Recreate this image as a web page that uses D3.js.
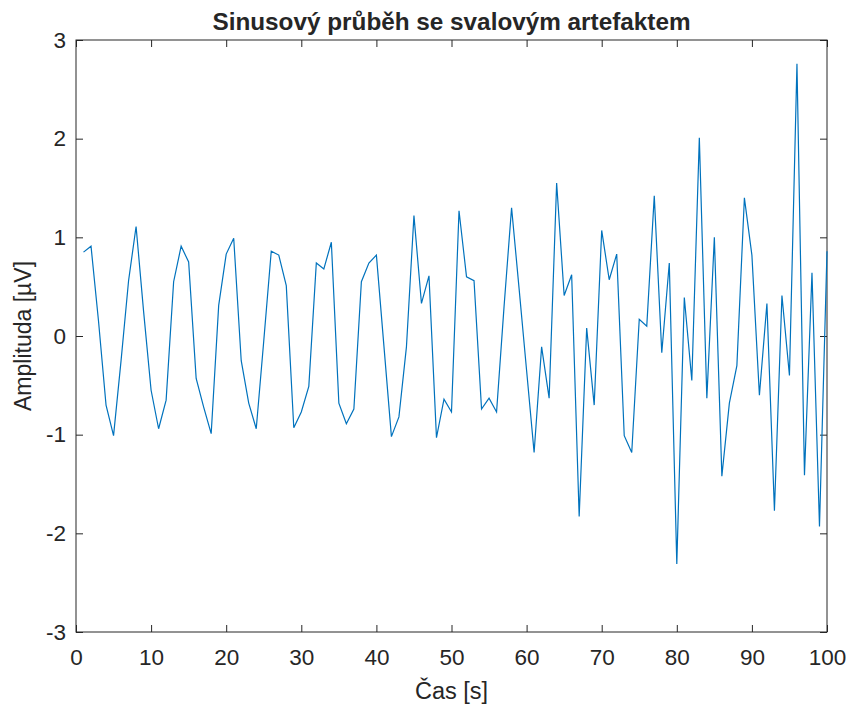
<!DOCTYPE html>
<html>
<head>
<meta charset="utf-8">
<script src="https://cdn.jsdelivr.net/npm/d3@7"></script>
<style>
  body { margin: 0; background: #fff; }
  svg text { font-family: "Liberation Sans", Arial, sans-serif; fill: #262626; }
</style>
</head>
<body>
<div id="chart"></div>
<script>
// Hodnoty (čas 1..100 s)
const casy = d3.range(1, 101);
const amplituda = [
  0.85, 0.91, 0.15, -0.70, -1.01, -0.25, 0.56, 1.11, 0.25, -0.55,
  -0.94, -0.65, 0.55, 0.91, 0.75, -0.43, -0.72, -0.99, 0.31, 0.83,
  0.99, -0.25, -0.68, -0.94, -0.05, 0.86, 0.82, 0.51, -0.93, -0.77,
  -0.51, 0.74, 0.68, 0.95, -0.68, -0.89, -0.74, 0.55, 0.74, 0.82,
  -0.10, -1.02, -0.82, -0.11, 1.22, 0.33, 0.61, -1.03, -0.64, -0.77,
  1.27, 0.60, 0.56, -0.74, -0.63, -0.77, 0.30, 1.30, 0.48, -0.35,
  -1.18, -0.11, -0.63, 1.55, 0.41, 0.62, -1.83, 0.08, -0.70, 1.07,
  0.57, 0.83, -1.01, -1.18, 0.17, 0.10, 1.42, -0.17, 0.74, -2.31,
  0.39, -0.45, 2.01, -0.63, 1.00, -1.42, -0.68, -0.30, 1.40, 0.82,
  -0.60, 0.33, -1.77, 0.41, -0.40, 2.76, -1.41, 0.64, -1.93, 0.86
];
const xTicks = d3.range(0, 101, 10);
const yTicks = [-3, -2, -1, 0, 1, 2, 3];

const titulek = 'Sinusový průběh se svalovým artefaktem';
const popisX = 'Čas [s]';
const popisY = 'Amplituda [µV]';

const W = 846, H = 707;
const margin = { top: 40, right: 19, bottom: 75, left: 76 };
const width = W - margin.left - margin.right;
const height = H - margin.top - margin.bottom;

const svg = d3.select('#chart').append('svg')
    .attr('width', W)
    .attr('height', H);

const g = svg.append('g')
    .attr('transform', `translate(${margin.left},${margin.top})`);

const x = d3.scaleLinear().domain([0, 100]).range([0, width]);
const y = d3.scaleLinear().domain([-3, 3]).range([height, 0]);

const tickLen = 7;
const axisColor = '#262626';
const fmt = d => String(d); // obyčejný spojovník jako v MATLABu

// osy - tiky dovnitř, na všech čtyřech stranách
function styleAxis(sel) {
    sel.select('.domain').remove();
    sel.selectAll('line').attr('stroke', axisColor);
    sel.selectAll('text').attr('fill', axisColor).style('font-size', '22.5px');
}

g.append('g')
    .attr('transform', `translate(0,${height})`)
    .call(d3.axisBottom(x).tickValues(xTicks).tickFormat(fmt).tickSizeInner(-tickLen).tickSizeOuter(0).tickPadding(17))
    .call(styleAxis);

g.append('g')
    .call(d3.axisTop(x).tickValues(xTicks).tickSizeInner(-tickLen).tickSizeOuter(0).tickFormat(''))
    .call(styleAxis);

g.append('g')
    .call(d3.axisLeft(y).tickValues(yTicks).tickFormat(fmt).tickSizeInner(-tickLen).tickSizeOuter(0).tickPadding(10))
    .call(styleAxis);

g.append('g')
    .attr('transform', `translate(${width},0)`)
    .call(d3.axisRight(y).tickValues(yTicks).tickSizeInner(-tickLen).tickSizeOuter(0).tickFormat(''))
    .call(styleAxis);

// rámeček
g.append('rect')
    .attr('x', 0).attr('y', 0)
    .attr('width', width).attr('height', height)
    .attr('fill', 'none')
    .attr('stroke', axisColor)
    .attr('stroke-width', 1);

// průběh
const line = d3.line()
    .x((d, i) => x(casy[i]))
    .y(d => y(d));

g.append('path')
    .datum(amplituda)
    .attr('fill', 'none')
    .attr('stroke', '#0072bd')
    .attr('stroke-width', 1.2)
    .attr('d', line);

// popisky
svg.append('text')
    .attr('x', margin.left + width / 2)
    .attr('y', 29.5)
    .attr('text-anchor', 'middle')
    .style('font-size', '24.3px')
    .style('font-weight', 'bold')
    .attr('fill', '#000')
    .text(titulek);

svg.append('text')
    .attr('x', margin.left + width / 2)
    .attr('y', 699)
    .attr('text-anchor', 'middle')
    .style('font-size', '23.5px')
    .text(popisX);

svg.append('text')
    .attr('transform', `translate(31,${margin.top + height / 2}) rotate(-90)`)
    .attr('text-anchor', 'middle')
    .style('font-size', '23px')
    .text(popisY);
</script>
</body>
</html>
